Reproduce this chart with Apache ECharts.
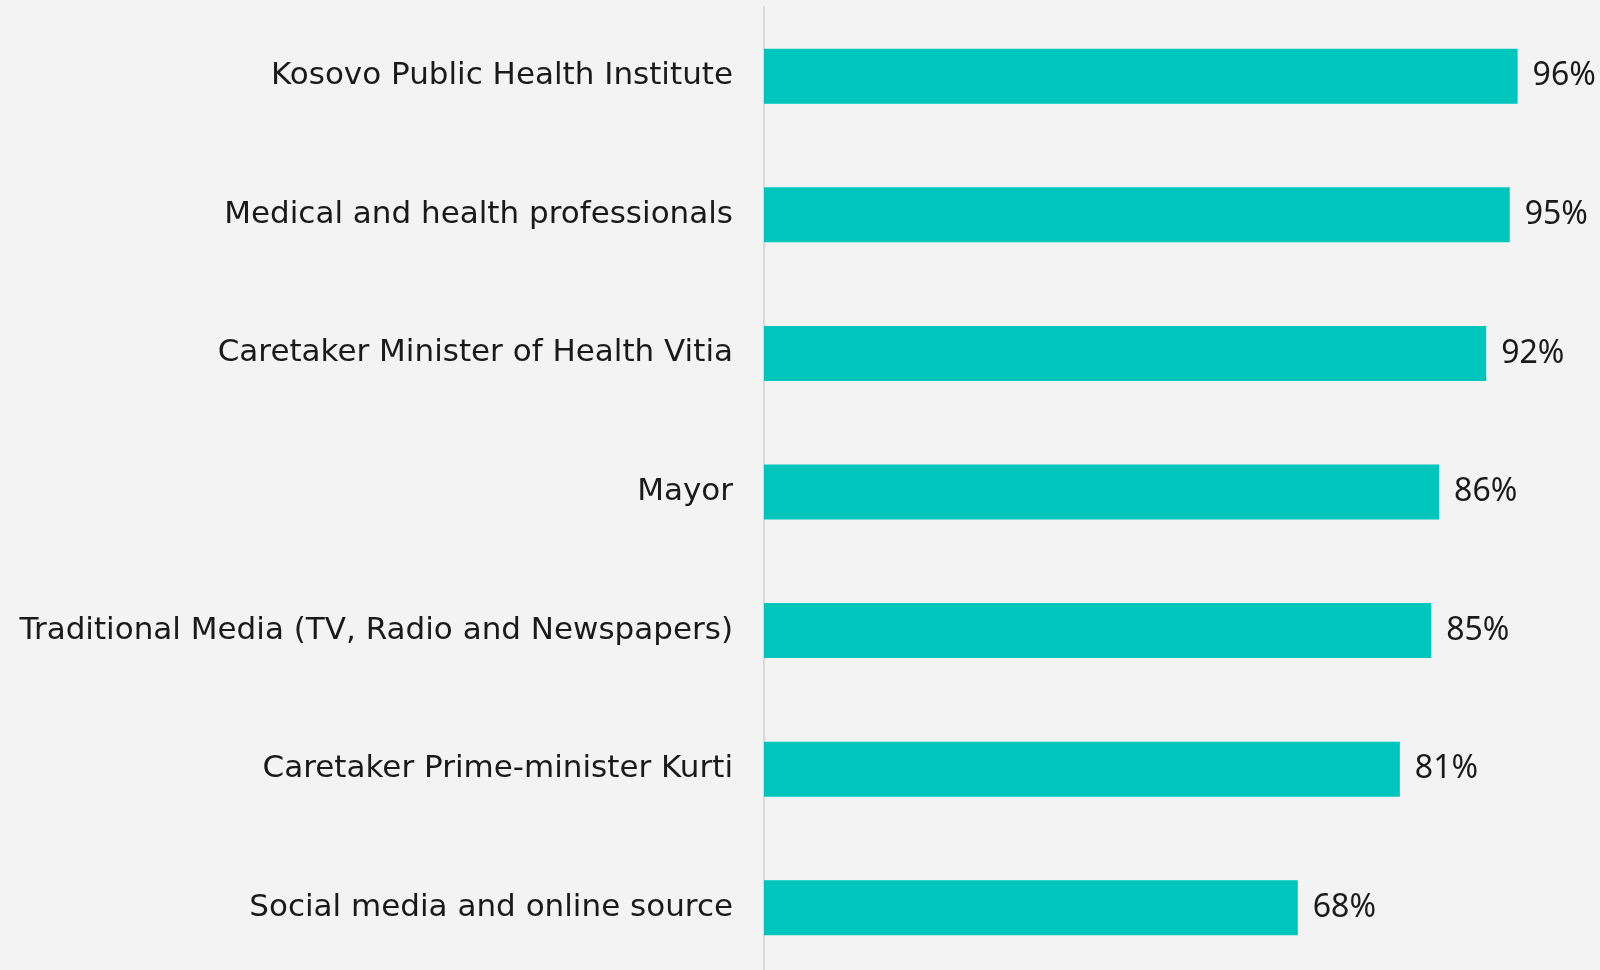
<!DOCTYPE html>
<html>
<head>
<meta charset="utf-8">
<style>
  html, body { margin: 0; padding: 0; background: #f3f3f3; }
  #chart { width: 1600px; height: 970px; }
</style>
<script src="https://cdn.jsdelivr.net/npm/echarts@6/dist/echarts.min.js"></script>
</head>
<body>
<div id="chart"></div>
<script>
// categories, top to bottom
var categories = [
    'Kosovo Public Health Institute',
    'Medical and health professionals',
    'Caretaker Minister of Health Vitia',
    'Mayor',
    'Traditional Media (TV, Radio and Newspapers)',
    'Caretaker Prime-minister Kurti',
    'Social media and online source'
];
// share in %
var values = [96, 95, 92, 86, 85, 81, 68];

(function () {
    var myChart = echarts.init(document.getElementById('chart'));
    var option = {
        backgroundColor: '#f3f3f3',
        animation: false,
        grid: {
            left: 764,
            right: 51,
            top: 7,
            height: 970, // runs a bit past the bottom edge like the original
            outerBoundsMode: 'none'
        },
        xAxis: {
            type: 'value',
            min: 0,
            max: 100,
            show: false
        },
        yAxis: {
            type: 'category',
            inverse: true, // first category on top
            data: categories,
            axisTick: { show: false },
            axisLine: {
                lineStyle: { color: '#d9d9d9', width: 2 }
            },
            axisLabel: {
                color: '#1a1a1a',
                fontSize: 31,
                fontFamily: '"DejaVu Sans", sans-serif',
                margin: 31
            }
        },
        series: [{
            type: 'bar',
            data: values,
            barWidth: 55,
            itemStyle: { color: '#00c5bc' },
            label: {
                show: true,
                position: 'right',
                distance: 15,
                color: '#1a1a1a',
                fontSize: 32,
                fontFamily: '"Noto Sans", sans-serif',
                formatter: '{c}%'
            }
        }]
    };
    myChart.setOption(option);
    window.addEventListener('resize', function () {
        myChart.resize();
    });
})();
</script>
</body>
</html>
